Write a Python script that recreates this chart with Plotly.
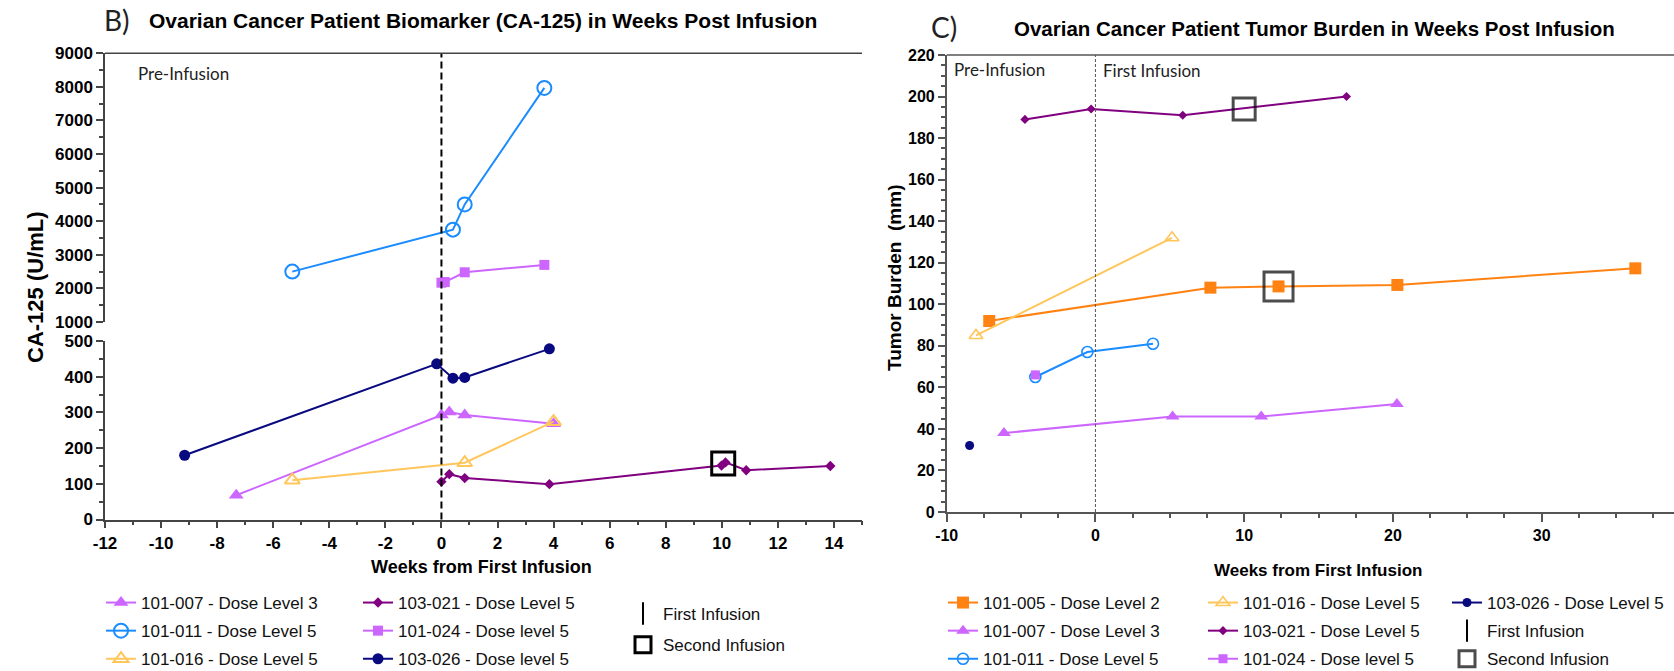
import plotly.graph_objects as go

W, H = 1674, 671


def px(x):
    return x / W


def py(y):
    return 1 - y / H


# ---------------- Data: CA-125 (panel B) ----------------
weeks_b_007 = [-7.32, 0.0, 0.28, 0.83, 4.0]
ca125_007 = [68, 293, 301, 293, 268]
weeks_b_011 = [-5.32, 0.41, 0.83, 3.67]
ca125_011 = [2500, 3750, 4500, 7970]
weeks_b_016 = [-5.32, 0.83, 4.0]
ca125_016 = [110, 159, 274]
weeks_b_021 = [0.0, 0.28, 0.83, 3.85, 9.99, 10.13, 10.87, 13.87]
ca125_021 = [106, 127, 116, 99, 151, 160, 138, 150]
weeks_b_024 = [0.0, 0.12, 0.83, 3.67]
ca125_024 = [2170, 2190, 2480, 2700]
weeks_b_026 = [-9.16, -0.17, 0.41, 0.83, 3.85]
ca125_026 = [180, 436, 396, 398, 478]
second_inf_b_weeks = [10.05]
second_inf_b_vals = [157]

# ---------------- Data: Tumor burden (panel C) ----------------
weeks_c_005 = [-7.14, 7.73, 12.31, 20.3, 36.3]
tumor_005 = [92, 108, 108.6, 109.3, 117.3]
weeks_c_007 = [-6.15, 5.19, 11.15, 20.27]
tumor_007 = [38, 46, 46, 52]
weeks_c_011 = [-4.04, -0.54, 3.87]
tumor_011 = [65, 77, 81]
weeks_c_016 = [-8.03, 5.15]
tumor_016 = [85, 132]
weeks_c_021 = [-4.74, -0.29, 5.87, 16.88]
tumor_021 = [189, 194, 191, 200]
weeks_c_024 = [-4.04]
tumor_024 = [66]
weeks_c_026 = [-8.46]
tumor_026 = [32]
second_inf_c_weeks = [10.0, 12.31]
second_inf_c_vals = [194, 108.6]

x_ticks_b = list(range(-12, 15, 2))
y_ticks_b_low = [0, 100, 200, 300, 400, 500]
y_ticks_b_high = [1000, 2000, 3000, 4000, 5000, 6000, 7000, 8000, 9000]
x_ticks_c = [-10, 0, 10, 20, 30]
y_ticks_c = list(range(0, 221, 20))

# colours
C005 = "#FF8212"
C007 = "#CC66FF"
C011 = "#1A8CFF"
C016 = "#FFC65C"
C021 = "#800080"
C024 = "#CC66FF"
C026 = "#0A0A80"

fig = go.Figure()


def series(x, y, name, color, symbol, size, xa, ya, legend, group, lw=2.0, mlw=0):
    fig.add_trace(go.Scatter(
        x=x, y=y, name=name, mode="lines+markers",
        line=dict(color=color, width=lw),
        marker=dict(color=color, symbol=symbol, size=size,
                    line=dict(color=color, width=mlw)),
        xaxis=xa, yaxis=ya, legend=legend, legendgroup=group,
    ))


# ----- Panel B traces -----
series(weeks_b_007, ca125_007, "101-007 - Dose Level 3", C007, "triangle-up", 13, "x", "y", "legend", "b007")
series(weeks_b_011, ca125_011, "101-011 - Dose Level 5", C011, "circle-open", 14, "x", "y2", "legend", "b011", mlw=2)
series(weeks_b_016, ca125_016, "101-016 - Dose Level 5", C016, "triangle-up-open", 13, "x", "y", "legend", "b016", mlw=2)
series(weeks_b_021, ca125_021, "103-021 - Dose Level 5", C021, "diamond", 8, "x", "y", "legend2", "b021")
series(weeks_b_024, ca125_024, "101-024 - Dose level 5", C024, "square", 10, "x", "y2", "legend2", "b024")
series(weeks_b_026, ca125_026, "103-026 - Dose level 5", C026, "circle", 11, "x", "y", "legend2", "b026")
fig.add_trace(go.Scatter(
    x=[None], y=[None], name="First Infusion", mode="markers",
    marker=dict(symbol="line-ns-open", size=18, color="black", line=dict(color="black", width=2)),
    xaxis="x", yaxis="y", legend="legend3", legendgroup="bfirst"))
fig.add_trace(go.Scatter(
    x=second_inf_b_weeks, y=second_inf_b_vals, name="Second Infusion", mode="markers",
    marker=dict(symbol="square-open", size=23, color="black", line=dict(color="black", width=3)),
    xaxis="x", yaxis="y", legend="legend3", legendgroup="bsecond"))

# ----- Panel C traces -----
series(weeks_c_005, tumor_005, "101-005 - Dose Level 2", C005, "square", 12, "x2", "y3", "legend4", "c005")
series(weeks_c_007, tumor_007, "101-007 - Dose Level 3", C007, "triangle-up", 12, "x2", "y3", "legend4", "c007")
series(weeks_c_011, tumor_011, "101-011 - Dose Level 5", C011, "circle-open", 11, "x2", "y3", "legend4", "c011", mlw=1.6)
series(weeks_c_016, tumor_016, "101-016 - Dose Level 5", C016, "triangle-up-open", 12, "x2", "y3", "legend5", "c016", mlw=1.6)
series(weeks_c_021, tumor_021, "103-021 - Dose Level 5", C021, "diamond", 7, "x2", "y3", "legend5", "c021")
series(weeks_c_024, tumor_024, "101-024 - Dose level 5", C024, "square", 9, "x2", "y3", "legend5", "c024")
series(weeks_c_026, tumor_026, "103-026 - Dose Level 5", C026, "circle", 9, "x2", "y3", "legend6", "c026")
fig.add_trace(go.Scatter(
    x=[None], y=[None], name="First Infusion", mode="markers",
    marker=dict(symbol="line-ns-open", size=18, color="black", line=dict(color="black", width=2)),
    xaxis="x2", yaxis="y3", legend="legend6", legendgroup="cfirst"))
fig.add_trace(go.Scatter(
    x=second_inf_c_weeks, y=second_inf_c_vals, name="Second Infusion", mode="markers",
    marker=dict(symbol="square-open", size=[22, 29], color="black", line=dict(color="black", width=3)),
    xaxis="x2", yaxis="y3", legend="legend6", legendgroup="csecond"))

TF_B = dict(family="Liberation Sans, Arial, sans-serif", size=17, color="black")
TF_C = dict(family="Liberation Sans, Arial, sans-serif", size=16, color="black")
AX = dict(showline=True, linewidth=1.5, ticks="outside", tickwidth=1.5, showgrid=False, zeroline=False)


def bt(vals):
    return [f"<b>{v}</b>" for v in vals]


def minor(dt, col):
    return dict(dtick=dt, ticklen=4, ticks="outside", tickcolor=col, tickwidth=1.5)


XB0, XB1 = 105, 862
fig.update_layout(
    width=W, height=H, margin=dict(l=0, r=0, t=0, b=0, autoexpand=False),
    paper_bgcolor="white", plot_bgcolor="white",
    xaxis=dict(domain=[px(XB0), px(XB1)], range=[-12, 15], anchor="y", tickvals=x_ticks_b,
               ticktext=bt(x_ticks_b), ticklen=7, linecolor="#444", tickcolor="#444", tickfont=TF_B,
               minor=minor(1, "#444"), **AX),
    yaxis=dict(domain=[py(519.5), py(341)], range=[0, 500], anchor="x", tickvals=y_ticks_b_low,
               ticktext=bt(y_ticks_b_low), ticklen=7, ticklabelstandoff=0, linecolor="#444",
               tickcolor="#444", tickfont=TF_B, minor=minor(50, "#444"), **AX),
    yaxis2=dict(domain=[py(322), py(53.3)], range=[1000, 9000], anchor="x", tickvals=y_ticks_b_high,
                ticktext=bt(y_ticks_b_high), ticklen=7, ticklabelstandoff=0, linecolor="#444",
                tickcolor="#444", tickfont=TF_B, minor=minor(500, "#444"), **AX),
    xaxis2=dict(domain=[px(946.7), 1.0], range=[-10, 38.9], anchor="y3", tickvals=x_ticks_c,
                ticktext=bt(x_ticks_c), ticklen=8, linecolor="#555", tickcolor="#555", tickfont=TF_C,
                minor=minor(2.5, "#555"), **AX),
    yaxis3=dict(domain=[py(512), py(55)], range=[0, 220], anchor="x2", tickvals=y_ticks_c,
                ticktext=bt(y_ticks_c), ticklen=7, ticklabelstandoff=0, linecolor="#555",
                tickcolor="#555", tickfont=TF_C, minor=minor(5, "#555"), **AX),
    showlegend=True,
)

LEGFONT = dict(family="Liberation Sans, Arial, sans-serif", size=17, color="#111")
LEG = dict(xanchor="left", yanchor="top", bgcolor="rgba(0,0,0,0)", font=LEGFONT,
           orientation="v", tracegroupgap=3, itemclick=False)
fig.update_layout(
    legend=dict(x=px(101), y=py(585), **LEG),
    legend2=dict(x=px(358), y=py(585), **LEG),
    legend3=dict(x=px(623), y=py(596), **{**LEG, "tracegroupgap": 6}),
    legend4=dict(x=px(943), y=py(585), **LEG),
    legend5=dict(x=px(1203), y=py(585), **LEG),
    legend6=dict(x=px(1447), y=py(585), **LEG),
)

# reference lines / frames
fig.add_shape(type="line", xref="x", yref="paper", x0=0, x1=0, y0=py(519.5), y1=py(53.3),
              line=dict(color="black", width=2, dash="7px,4px"))
fig.add_shape(type="line", xref="paper", yref="paper", x0=px(XB0), x1=px(XB1), y0=py(53.3), y1=py(53.3),
              line=dict(color="#444", width=1.5))
fig.add_shape(type="line", xref="x2", yref="paper", x0=0, x1=0, y0=py(512), y1=py(55),
              line=dict(color="#555", width=1, dash="3px,2px"))
fig.add_shape(type="line", xref="paper", yref="paper", x0=px(946.7), x1=1.0, y0=py(55), y1=py(55),
              line=dict(color="#555", width=1.5))

BOLD = dict(family="Liberation Sans, Arial, sans-serif", color="black", weight="bold")
LIGHT = dict(family="Lato, Open Sans, sans-serif", color="#222")


def ann(text, x, y, font, xanchor="center", textangle=0):
    fig.add_annotation(text=text, x=px(x), y=py(y), xref="paper", yref="paper",
                       xanchor=xanchor, yanchor="middle", showarrow=False, font=font,
                       textangle=textangle)


ann("B)", 117, 20, dict(size=28, **LIGHT))
ann("Ovarian Cancer Patient Biomarker (CA-125) in Weeks Post Infusion", 483, 20.5, dict(size=21, **BOLD))
ann("C)", 944, 27, dict(size=28, **LIGHT))
ann("Ovarian Cancer Patient Tumor Burden in Weeks Post Infusion", 1314, 29, dict(size=20.5, **BOLD))
ann("Pre-Infusion", 136, 73, dict(size=17, **LIGHT), xanchor="left")
ann("Pre-Infusion", 952, 69, dict(size=17, **LIGHT), xanchor="left")
ann("First Infusion", 1101, 70, dict(size=17, **LIGHT), xanchor="left")
ann("CA-125 (U/mL)", 35, 287, dict(size=22, **BOLD), textangle=-90)
ann("Tumor Burden\u00a0 (mm)", 894, 278, dict(size=19, **BOLD), textangle=-90)
ann("Weeks from First Infusion", 482, 567, dict(size=18, **BOLD))
ann("Weeks from First Infusion", 1318, 570, dict(size=17, **BOLD))

fig.write_html("out.html", config={"displayModeBar": False},
               post_script="document.body.style.margin='0px';")
